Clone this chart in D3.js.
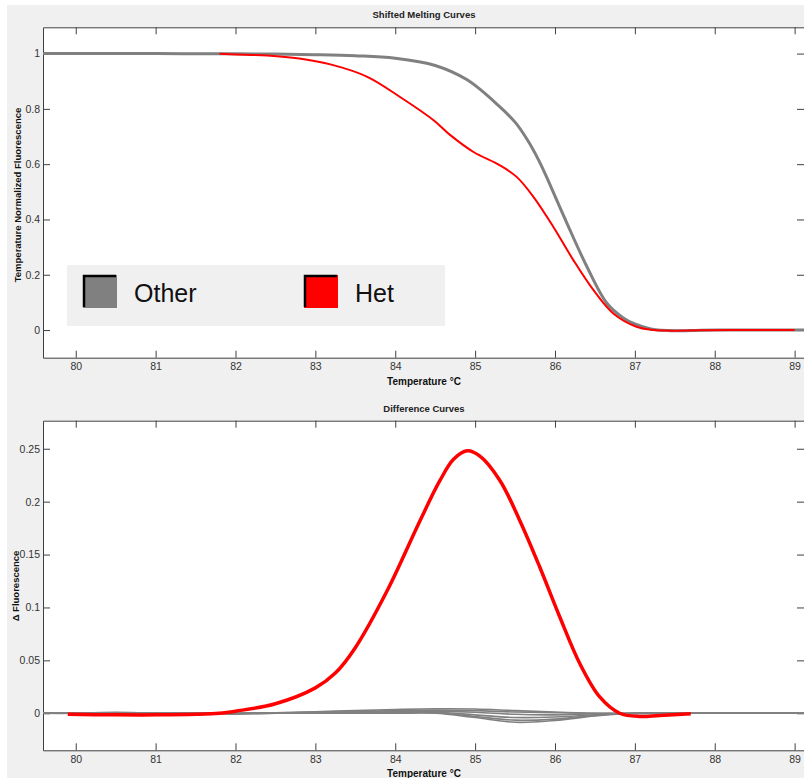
<!DOCTYPE html>
<html>
<head>
<meta charset="utf-8">
<script src="https://cdn.jsdelivr.net/npm/d3@7/dist/d3.min.js"></script>
<style>
  body { margin: 0; background: #fff; }
  svg { display: block; font-family: "Liberation Sans", Arial, sans-serif; }
  .tick text { fill: #333; font-size: 10.5px; }
  .tick line, .domain { stroke: #404040; }
</style>
</head>
<body>
<svg id="chart" width="804" height="778"></svg>
<script>
// tick labels
var tempTicks = [80, 81, 82, 83, 84, 85, 86, 87, 88, 89];
var meltTicks = [0, 0.2, 0.4, 0.6, 0.8, 1];
var diffTicks = [0, 0.05, 0.1, 0.15, 0.2, 0.25];

// legend
var groups = ['Other', 'Het'];
var groupColors = ['#808080', '#ff0000'];

// shifted melting curves (temperature, normalized fluorescence)
var otherMeltT = [79.5, 80, 81, 82, 82.5, 83, 83.5, 84, 84.5, 84.9, 85.3, 85.5, 85.65, 85.8, 85.9, 86.15, 86.4, 86.65, 86.85, 87.0, 87.2, 87.4, 87.7, 88, 89.3];
var otherMeltF = [1, 1, 1, 0.999, 0.998, 0.996, 0.992, 0.983, 0.957, 0.905, 0.81, 0.752, 0.69, 0.612, 0.55, 0.386, 0.229, 0.097, 0.045, 0.022, 0.004, -0.002, -0.002, 0, 0];
var hetMeltT = [81.8, 82, 82.4, 82.8, 83.2, 83.65, 84.06, 84.48, 84.69, 84.98, 85.31, 85.52, 85.73, 85.98, 86.23, 86.48, 86.73, 87.02, 87.2, 87.4, 87.8, 88.2, 89];
var hetMeltF = [0.999, 0.997, 0.993, 0.982, 0.96, 0.916, 0.843, 0.759, 0.705, 0.644, 0.596, 0.554, 0.482, 0.373, 0.253, 0.145, 0.06, 0.012, 0.001, -0.002, -0.001, 0, 0];

// difference curves
var hetDiffT = [79.9, 80.5, 81, 81.5, 81.8, 82, 82.5, 83.0, 83.25, 83.5, 83.9, 84.31, 84.56, 84.73, 84.9, 85.06, 85.31, 85.56, 85.81, 86.06, 86.31, 86.56, 86.81, 87.06, 87.31, 87.7];
var hetDiffD = [-0.001, -0.0015, -0.0015, -0.001, 0, 0.002, 0.009, 0.024, 0.038, 0.062, 0.116, 0.182, 0.22, 0.24, 0.248, 0.243, 0.22, 0.182, 0.138, 0.091, 0.047, 0.0154, 0, -0.003, -0.002, -0.0005];

var otherDiffT = [79.5, 80, 80.5, 81, 81.5, 82, 82.5, 83, 83.5, 84, 84.5, 85, 85.5, 86, 86.5, 87, 87.5, 88, 89.3];
var otherDiff1 = [0, 0, 0.0008, 0, 0, 0, 0.0005, 0.0015, 0.0025, 0.0035, 0.0042, 0.004, 0.0025, 0.0012, 0, 0, 0, 0, 0];
var otherDiff2 = [0, 0, 0, 0, 0, -0.0008, 0, 0.0008, 0.0015, 0.0025, 0.003, 0.0025, 0.0012, 0.0005, 0, -0.0005, 0, 0, 0];
var otherDiff3 = [0, 0, 0, 0, 0, 0, 0, 0.0005, 0.001, 0.0015, 0.0018, 0.001, -0.001, -0.0015, -0.0005, 0, 0, 0, 0];
var otherDiff4 = [0, 0, 0, 0, 0, 0, 0, 0, 0.0005, 0.001, 0.001, -0.0015, -0.004, -0.0035, -0.0015, 0, 0, 0, 0];
var otherDiff5 = [0, 0, 0, 0, 0, 0, 0, 0, 0, 0.0005, 0.0005, -0.003, -0.0065, -0.0055, -0.002, 0, 0, 0, 0];
var otherDiff6 = [0, 0, 0, 0, 0, 0, 0, 0, 0, 0, 0, -0.004, -0.0085, -0.0068, -0.0025, 0, 0, 0, 0];

var svg = d3.select('#chart');

// figure background
svg.append('rect').attr('x', 7).attr('y', 5).attr('width', 797).attr('height', 773).attr('fill', '#f0f0f0');

var left = 43, right = 805;
var x = d3.scaleLinear().domain([79.59, 89.13]).range([left, right]);

var zip = function(xs, ys) {
	return xs.map(function(t, i) { return [t, ys[i]]; });
};

/**
 * Draws one axes box with its ticks, title and labels
 */
var drawPanel = function(id, y, yTicks, title, yLabel, yLabelX, yLabelY) {

	var top = y.range()[1], bottom = y.range()[0];
	var g = svg.append('g');

	g.append('rect').attr('x', left).attr('y', top).attr('width', right - left).attr('height', bottom - top).attr('fill', '#fff');

	g.append('clipPath').attr('id', id).append('rect')
		.attr('x', left).attr('y', top).attr('width', right - left).attr('height', bottom - top);

	g.append('g').attr('transform', 'translate(0,' + bottom + ')')
		.call(d3.axisBottom(x).tickValues(tempTicks).tickSize(-7).tickSizeOuter(0).tickPadding(5).tickFormat(d3.format('d')));
	g.append('g').attr('transform', 'translate(0,' + top + ')')
		.call(d3.axisTop(x).tickValues(tempTicks).tickSize(-7).tickSizeOuter(0).tickFormat(''));
	g.append('g').attr('transform', 'translate(' + left + ',0)')
		.call(d3.axisLeft(y).tickValues(yTicks).tickSize(-7).tickSizeOuter(0).tickPadding(3).tickFormat(function(d) { return String(+d.toFixed(2)); }));
	g.append('g').attr('transform', 'translate(' + (right - 1) + ',0)')
		.call(d3.axisRight(y).tickValues(yTicks).tickSize(-7).tickSizeOuter(0).tickFormat(''));

	g.selectAll('.domain').attr('stroke', '#404040');

	g.append('text').attr('x', 424).attr('y', top - 9).attr('text-anchor', 'middle')
		.attr('font-size', '9.5px').attr('font-weight', 'bold').attr('fill', '#222').text(title);
	g.append('text').attr('x', 424).attr('y', bottom + 27).attr('text-anchor', 'middle')
		.attr('font-size', '10px').attr('font-weight', 'bold').attr('fill', '#111').text('Temperature °C');
	g.append('text').attr('transform', 'translate(' + yLabelX + ',' + yLabelY + ') rotate(-90)').attr('text-anchor', 'middle')
		.attr('font-size', '9.5px').attr('font-weight', 'bold').attr('fill', '#111').text(yLabel);

	return g.append('g').attr('clip-path', 'url(#' + id + ')');
};

/**
 * Top panel: shifted melting curves
 */
var yMelt = d3.scaleLinear().domain([-0.1, 1.095]).range([357.7, 27.3]);
var melt = drawPanel('clipMelt', yMelt, meltTicks, 'Shifted Melting Curves', 'Temperature Normalized Fluorescence', 20.5, 195);
var meltLine = d3.line().x(function(d) { return x(d[0]); }).y(function(d) { return yMelt(d[1]); }).curve(d3.curveCatmullRom.alpha(0.5));

melt.append('path').datum(zip(otherMeltT, otherMeltF)).attr('d', meltLine)
	.attr('fill', 'none').attr('stroke', groupColors[0]).attr('stroke-width', 3);
melt.append('path').datum(zip(hetMeltT, hetMeltF)).attr('d', meltLine)
	.attr('fill', 'none').attr('stroke', groupColors[1]).attr('stroke-width', 2);

// legend
var lg = svg.append('g');
lg.append('rect').attr('x', 67).attr('y', 265).attr('width', 378).attr('height', 61).attr('fill', '#f0f0f0');
groups.forEach(function(name, i) {
	var sx = i === 0 ? 83 : 304;
	lg.append('rect').attr('x', sx).attr('y', 275).attr('width', 34).attr('height', 33).attr('fill', groupColors[i]);
	lg.append('path').attr('d', 'M' + (sx + 1) + ',' + 307 + 'V' + 276 + 'H' + (sx + 33))
		.attr('fill', 'none').attr('stroke', '#000').attr('stroke-width', 2.5);
	lg.append('text').attr('x', sx + 51).attr('y', 302).attr('font-size', '25px')
		.attr('font-family', '"Liberation Sans Narrow", "Liberation Sans", sans-serif').attr('fill', '#111').text(name);
});

/**
 * Bottom panel: difference curves
 */
var yDiff = d3.scaleLinear().domain([-0.035, 0.2765]).range([750.3, 420.7]);
var diff = drawPanel('clipDiff', yDiff, diffTicks, 'Difference Curves', 'Δ Fluorescence', 18.5, 586);
var diffLine = d3.line().x(function(d) { return x(d[0]); }).y(function(d) { return yDiff(d[1]); }).curve(d3.curveCatmullRom.alpha(0.5));

[otherDiff1, otherDiff2, otherDiff3, otherDiff4, otherDiff5, otherDiff6].forEach(function(vals) {
	diff.append('path').datum(zip(otherDiffT, vals)).attr('d', diffLine)
		.attr('fill', 'none').attr('stroke', groupColors[0]).attr('stroke-width', 1.6);
});
diff.append('path').datum(zip(hetDiffT, hetDiffD)).attr('d', diffLine)
	.attr('fill', 'none').attr('stroke', groupColors[1]).attr('stroke-width', 3.5);
</script>
</body>
</html>
